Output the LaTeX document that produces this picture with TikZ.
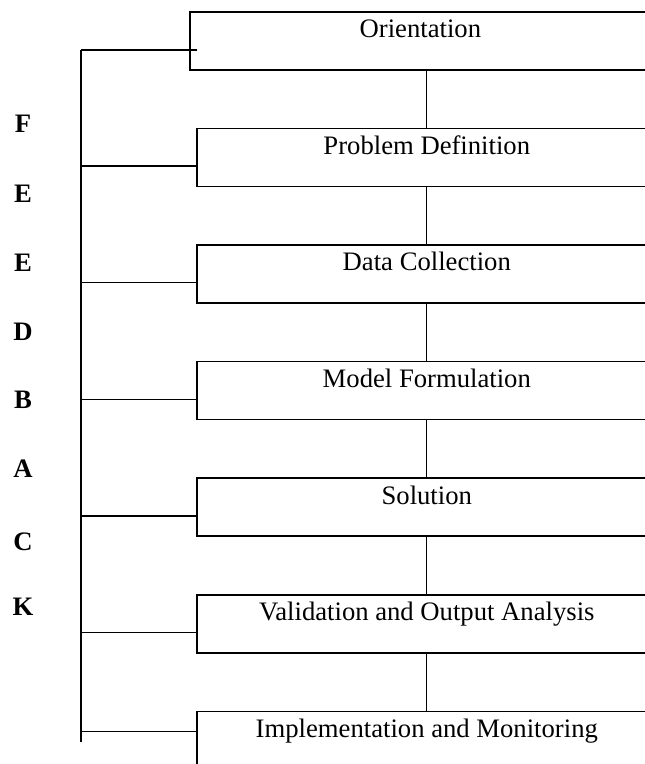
\documentclass[tikz,border=0pt]{standalone}
\usepackage{fontspec}
\setmainfont{Liberation Serif}
\usetikzlibrary{positioning, calc}

\begin{document}
\begin{tikzpicture}[
  x=0.45pt, y=-0.45pt,
  stage/.style={draw, line width=0.7pt, anchor=north west, inner sep=0pt,
    minimum width=207pt, minimum height=26.1pt,
    text height=8pt, text depth=10.7pt, font=\fontsize{12}{14}\selectfont},
  tag/.style={font=\fontsize{12}{14}\selectfont\bfseries, inner sep=0pt},
  link/.style={line width=0.6pt}
]
  \useasboundingbox (0,0) rectangle (645,764);
  \clip (0,0) rectangle (645,764);

  % Stages (cut off at the right edge)
  \node[stage, minimum width=207.5pt] (orient) at (189,11) {Orientation};
  \node[stage] (probdef)   at (196,127.6) {Problem Definition};
  \node[stage] (datacol)   at (196,244.2) {Data Collection};
  \node[stage] (modform)   at (196,360.8) {Model Formulation};
  \node[stage] (solution)  at (196,477.4) {Solution};
  \node[stage] (validate)  at (196,594)   {Validation and Output Analysis};
  \node[stage] (implement) at (196,710.6) {Implementation and Monitoring};

  % Flow between stages
  \draw[link] (orient.south -| probdef.north) -- (probdef.north);
  \foreach \a/\b in {probdef/datacol, datacol/modform, modform/solution,
                     solution/validate, validate/implement}
    \draw[link] (\a) -- (\b);

  % Feedback spine on the left
  \coordinate (spinetop) at (81,50);
  \coordinate (spinebot) at (81,742);
  \draw[link] (spinetop) -- (spinebot);
  \path (orient.north west) ++(8,39) coordinate (orient-tap);
  \draw[link] (spinetop) -- (orient-tap);
  \foreach \nd/\dy in {probdef/38.5, datacol/38.5, modform/38.5,
                       solution/38.5, validate/38.5, implement/21} {
    \path (\nd.north west) ++(0,\dy) coordinate (\nd-tap);
    \draw[link] (\nd-tap) -- (spinetop |- \nd-tap);
  }

  % Letters
  \foreach \ltr/\yy/\nm in {F/124/tagf, E/194/tage, E/263/tagee, D/332/tagd,
                            B/400/tagb, A/469/taga, C/542/tagc, K/607/tagk}
    \node[tag] (\nm) at (23,\yy) {\ltr};
\end{tikzpicture}
\end{document}
